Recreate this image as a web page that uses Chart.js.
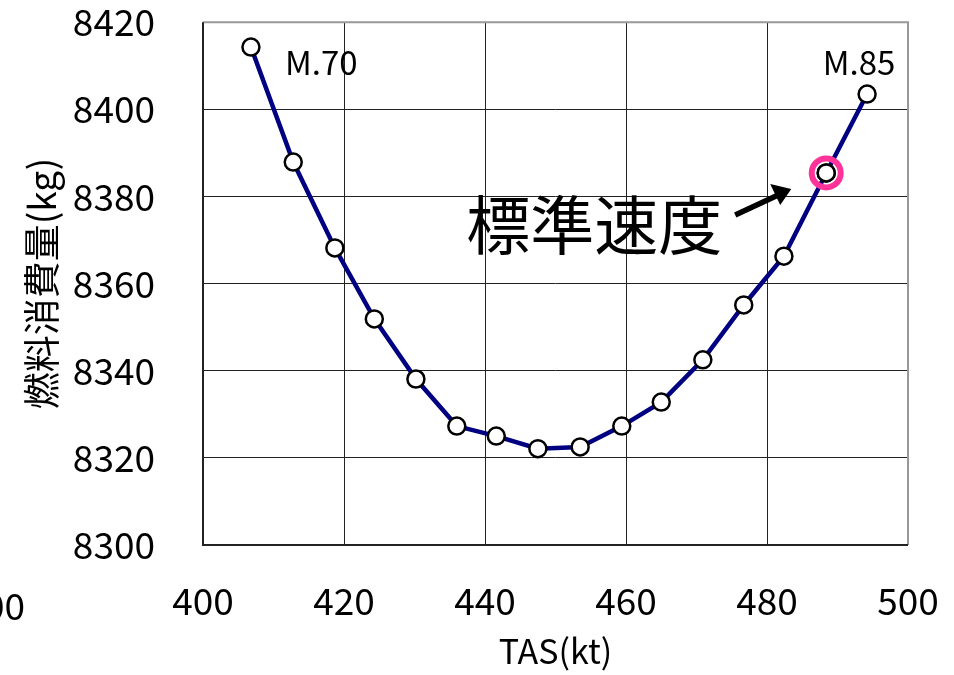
<!DOCTYPE html>
<html>
<head>
<meta charset="utf-8">
<script src="https://cdn.jsdelivr.net/npm/chart.js@4.4.1/dist/chart.umd.min.js"></script>
<style>
  html, body { margin: 0; padding: 0; background: #fff; }
  #wrap { width: 954px; height: 675px; }
</style>
</head>
<body>
<div id="wrap"><canvas id="fuel-chart" width="954" height="675"></canvas></div>
<script>
const tas = [406.8, 412.8, 418.7, 424.3, 430.2, 436.0, 441.6, 447.5, 453.5, 459.4, 465.0, 470.9, 476.7, 482.4, 488.4, 494.2];
const fuel = [8414.3, 8387.9, 8368.2, 8351.9, 8338.1, 8327.3, 8325.0, 8322.1, 8322.5, 8327.3, 8332.8, 8342.5, 8355.1, 8366.3, 8385.4, 8403.5];
const machLabels = ["M.70", "M.85"];
const standardIndex = 14;
const standardLabel = "標準速度";
const xTitle = "TAS(kt)";
const yTitle = "燃料消費量(kg)";

const FONT = "'Noto Sans CJK JP', 'Noto Sans', sans-serif";

const annotations = {
  id: "annotations",
  afterDatasetsDraw(chart) {
    const ctx = chart.ctx;
    const x = chart.scales.x;
    const y = chart.scales.y;
    ctx.save();

    // pink ring on standard speed
    const sx = x.getPixelForValue(tas[standardIndex]);
    const sy = y.getPixelForValue(fuel[standardIndex]);
    ctx.beginPath();
    ctx.arc(sx, sy, 14.5, 0, Math.PI * 2);
    ctx.strokeStyle = "#ff3399";
    ctx.lineWidth = 6;
    ctx.stroke();

    ctx.beginPath();
    ctx.arc(sx, sy, 8.5, 0, Math.PI * 2);
    ctx.fillStyle = "#fff";
    ctx.fill();
    ctx.strokeStyle = "#000";
    ctx.lineWidth = 2.5;
    ctx.stroke();

    ctx.fillStyle = "#000";
    ctx.textBaseline = "middle";

    // Mach labels
    ctx.font = "33px " + FONT;
    ctx.textAlign = "left";
    const fx = x.getPixelForValue(tas[0]);
    const fy = y.getPixelForValue(fuel[0]);
    ctx.fillText(machLabels[0], fx + 34, fy + 15);
    const lx = x.getPixelForValue(tas[tas.length - 1]);
    const ly = y.getPixelForValue(fuel[fuel.length - 1]);
    ctx.textAlign = "center";
    ctx.fillText(machLabels[1], lx - 8, ly - 32);

    // standard speed label + arrow
    ctx.font = "64px " + FONT;
    ctx.textAlign = "right";
    ctx.fillText(standardLabel, sx - 104, sy + 52);

    ctx.beginPath();
    ctx.moveTo(sx - 91, sy + 42);
    ctx.lineTo(sx - 48, sy + 22);
    ctx.strokeStyle = "#000";
    ctx.lineWidth = 5.5;
    ctx.stroke();
    ctx.beginPath();
    ctx.moveTo(sx - 35, sy + 16);
    ctx.lineTo(sx - 56, sy + 11);
    ctx.lineTo(sx - 46, sy + 32);
    ctx.closePath();
    ctx.fill();

    // clipped label from neighbouring chart
    ctx.font = "37px " + FONT;
    ctx.textAlign = "right";
    ctx.fillText("400", 25, 606);

    // plot frame (gray top/right)
    const a = chart.chartArea;
    ctx.strokeStyle = "#999";
    ctx.lineWidth = 2;
    ctx.beginPath();
    ctx.moveTo(a.left, a.top);
    ctx.lineTo(a.right, a.top);
    ctx.lineTo(a.right, a.bottom);
    ctx.stroke();
    ctx.strokeStyle = "#222";
    ctx.lineWidth = 2;
    ctx.beginPath();
    ctx.moveTo(a.left, a.top);
    ctx.lineTo(a.left, a.bottom);
    ctx.lineTo(a.right, a.bottom);
    ctx.stroke();

    ctx.restore();
  }
};

new Chart(document.getElementById("fuel-chart"), {
  type: "line",
  data: {
    datasets: [
      {
        data: tas.map((t, i) => ({ x: t, y: fuel[i] })),
        borderColor: "#000080",
        borderWidth: 4.5,
        pointRadius: 8.5,
        pointBackgroundColor: "#fff",
        pointBorderColor: "#000",
        pointBorderWidth: 2.5,
        tension: 0
      }
    ]
  },
  options: {
    responsive: false,
    animation: false,
    devicePixelRatio: 1,
    layout: { padding: { top: 22, right: 46, left: 0, bottom: 0 } },
    plugins: { legend: { display: false }, tooltip: { enabled: false } },
    scales: {
      x: {
        type: "linear",
        min: 400,
        max: 500,
        ticks: {
          stepSize: 20, color: "#000", font: { size: 37, family: FONT }, padding: 0,
          callback: v => String(v)
        },
        grid: { color: "#222", lineWidth: 1, drawTicks: true, tickLength: 34, tickColor: "rgba(0,0,0,0)" },
        border: { display: false },
        title: { display: true, text: xTitle, color: "#000", font: { size: 34, family: FONT }, padding: { top: 0, bottom: 4 } },
        afterFit(scale) { scale.height = 130; }
      },
      y: {
        min: 8300,
        max: 8420,
        ticks: {
          stepSize: 20, color: "#000", font: { size: 37, family: FONT }, padding: 0,
          callback: v => String(v)
        },
        grid: { color: "#222", lineWidth: 1, drawTicks: true, tickLength: 48, tickColor: "rgba(0,0,0,0)" },
        border: { display: false },
        title: { display: true, text: yTitle, color: "#000", font: { size: 37, family: FONT }, padding: { top: 20, bottom: 0 } },
        afterFit(scale) { scale.width = 203; }
      }
    }
  },
  plugins: [annotations]
});
</script>
</body>
</html>
